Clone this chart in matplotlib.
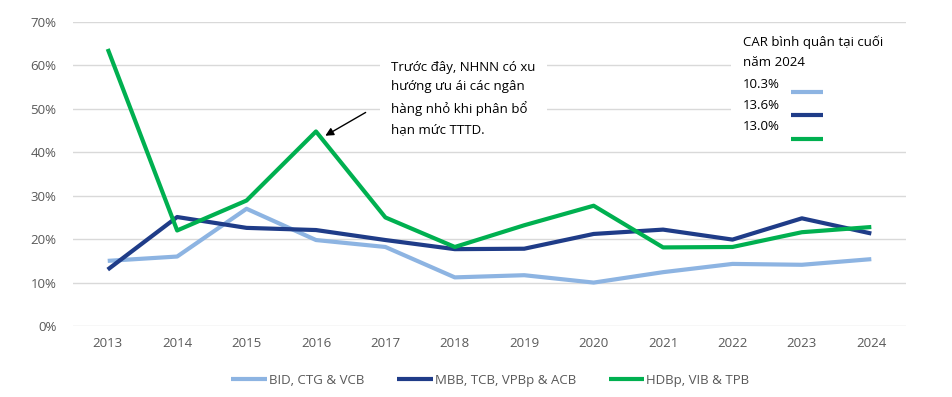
import matplotlib.pyplot as plt
import numpy as np

plt.rcParams['font.family'] = ['Open Sans', 'DejaVu Sans']

years = [2013, 2014, 2015, 2016, 2017, 2018, 2019, 2020, 2021, 2022, 2023, 2024]
state_banks = [15.0, 16.0, 27.0, 19.8, 18.2, 11.2, 11.7, 10.0, 12.4, 14.3, 14.1, 15.4]
large_private = [13.0, 25.1, 22.6, 22.1, 19.8, 17.7, 17.8, 21.2, 22.2, 19.9, 24.8, 21.3]
small_private = [63.8, 22.0, 28.9, 44.8, 25.0, 18.2, 23.2, 27.7, 18.1, 18.2, 21.6, 22.8]
series_names = ["BID, CTG & VCB", "MBB, TCB, VPBp & ACB", "HDBp, VIB & TPB"]
car_2024 = ["10.3%", "13.6%", "13.0%"]
colors = ["#8DB4E2", "#1F3C88", "#00B050"]

fig = plt.figure(figsize=(9.52, 3.97), dpi=100)
ax = fig.add_axes([0.0767, 0.1788, 0.8750, 0.7657])

for vals, name, c in zip([state_banks, large_private, small_private], series_names, colors):
    ax.plot(years, vals, color=c, linewidth=3, label=name, solid_capstyle='butt')

ax.set_xlim(2012.5, 2024.5)
ax.set_ylim(0, 70)
ax.set_xticks(years)
ax.set_yticks(np.arange(0, 71, 10))
ax.set_yticklabels([f"{v}%" for v in range(0, 71, 10)])
ax.tick_params(length=0, labelsize=9.5, colors="#595959", pad=8)
ax.tick_params(axis='y', pad=12)
for s in ax.spines.values():
    s.set_visible(False)
ax.grid(axis='y', color="#D9D9D9", linewidth=1)
ax.set_axisbelow(True)

# annotation box
ax.text(0.382, 0.872, "Trước đây, NHNN có xu\nhướng ưu ái các ngân\nhàng nhỏ khi phân bổ\nhạn mức TTTD.",
        transform=ax.transAxes, fontsize=9.5, va='top', ha='left', linespacing=1.65,
        bbox=dict(facecolor='white', edgecolor='none', pad=8))
ax.annotate("", xy=(2016.1, 43.5), xytext=(2016.75, 49.5),
            arrowprops=dict(arrowstyle='-|>', color='black', lw=1, mutation_scale=12))

# CAR box
ax.add_patch(plt.Rectangle((0.79, 0.58), 0.21, 0.38, transform=ax.transAxes,
                           facecolor='white', edgecolor='none', zorder=3))
ax.text(0.804, 0.955, "CAR bình quân tại cuối\nnăm 2024", transform=ax.transAxes,
        fontsize=9.5, va='top', ha='left', linespacing=1.65, zorder=4)
for i, (lab, c) in enumerate(zip(car_2024, colors)):
    yt = 0.815 - i * 0.069
    yl = yt - 0.045 - i * 0.008
    ax.text(0.804, yt, lab, transform=ax.transAxes, fontsize=9.5, va='top', ha='left', zorder=4)
    ax.plot([0.862, 0.900], [yl, yl], transform=ax.transAxes,
            color=c, linewidth=3, zorder=4, solid_capstyle='butt')

fig.legend(loc='lower center', bbox_to_anchor=(0.515, -0.005), ncol=3, frameon=False,
           fontsize=9.5, handlelength=2.7, handletextpad=0.15, columnspacing=2.5,
           labelcolor="#595959")

fig.savefig("out.png", dpi=100)
